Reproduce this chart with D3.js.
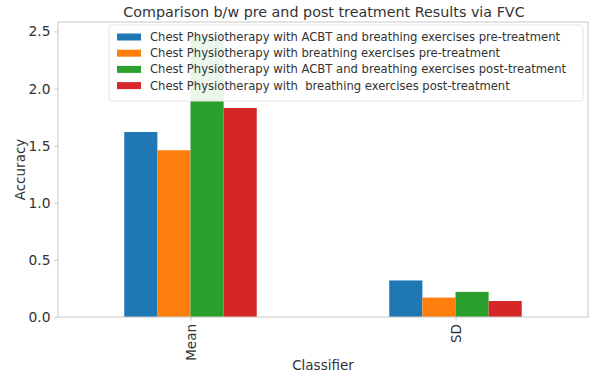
<!DOCTYPE html>
<html><head><meta charset="utf-8">
<script src="https://cdn.jsdelivr.net/npm/d3@7"></script>
<style>body{margin:0;background:#fff}svg{display:block}text{font-family:"DejaVu Sans",sans-serif;fill:#333}</style>
</head><body>
<script>
const categories = ["Mean", "SD"];
const seriesNames = [
  "Chest Physiotherapy with ACBT and breathing exercises pre-treatment",
  "Chest Physiotherapy with breathing exercises pre-treatment",
  "Chest Physiotherapy with ACBT and breathing exercises post-treatment",
  "Chest Physiotherapy with  breathing exercises post-treatment"
];
const acbtPre = [1.62, 0.32];
const breathPre = [1.46, 0.17];
const acbtPost = [2.46, 0.22];
const breathPost = [1.83, 0.14];
const yTicks = [0.0, 0.5, 1.0, 1.5, 2.0, 2.5];
const colors = ["#1f77b4", "#ff7f0e", "#2ca02c", "#d62728"];
const series = [acbtPre, breathPre, acbtPost, breathPost];

const W = 589, H = 377;
const L = 58, R = 588, T = 22, B = 317;
const svg = d3.select("body").append("svg").attr("width", W).attr("height", H);

const x = d3.scaleLinear().domain([-0.5, 1.5]).range([L, R]);
const ymax = d3.max(series.flat()) * 1.05;
const y = d3.scaleLinear().domain([0, ymax]).range([B, T]);
const bw = 0.125;

series.forEach((s, i) => {
  svg.append("g").selectAll("rect").data(s).join("rect")
    .attr("x", (d, j) => x(j + (i - 2) * bw))
    .attr("width", x(bw) - x(0))
    .attr("y", d => y(d))
    .attr("height", d => y(0) - y(d))
    .attr("fill", colors[i]);
});

// spines
const spine = "#c8c8c8";
svg.append("rect").attr("x", L).attr("y", T).attr("width", R - L).attr("height", B - T)
  .attr("fill", "none").attr("stroke", spine).attr("stroke-width", 1);

// y axis
const yAxis = d3.axisLeft(y).tickValues(yTicks).tickFormat(d3.format(".1f")).tickSize(3.5).tickPadding(4);
const gy = svg.append("g").attr("transform", `translate(${L},0)`).call(yAxis);
gy.select(".domain").remove();
gy.selectAll("line").attr("stroke", spine);
gy.selectAll("text").style("font-size", "13.8px").attr("fill", "#444").attr("font-family", "DejaVu Sans");

// x axis
const xAxis = d3.axisBottom(x).tickValues([0, 1]).tickFormat(d => categories[d]).tickSize(3.5).tickPadding(4);
const gx = svg.append("g").attr("transform", `translate(0,${B})`).call(xAxis);
gx.select(".domain").remove();
gx.selectAll("line").attr("stroke", spine);
gx.selectAll("text").style("font-size", "13.5px").attr("fill", "#444").attr("font-family", "DejaVu Sans")
  .attr("transform", "rotate(-90)").attr("text-anchor", "end").attr("dy", "0.35em")
  .attr("x", -7).attr("y", 0);

// labels
svg.append("text").attr("x", (L + R) / 2).attr("y", 370).attr("text-anchor", "middle")
  .style("font-size", "13.5px").text("Classifier");
svg.append("text").attr("transform", `translate(25,${(T + B) / 2}) rotate(-90)`).attr("text-anchor", "middle")
  .style("font-size", "13.5px").text("Accuracy");
svg.append("text").attr("x", (L + R) / 2 + 1).attr("y", 17).attr("text-anchor", "middle")
  .style("font-size", "14.3px").text("Comparison b/w pre and post treatment Results via FVC");

// legend
const lg = svg.append("g");
lg.append("rect").attr("x", 109).attr("y", 25).attr("width", 474).attr("height", 76).attr("rx", 3)
  .attr("fill", "#fff").attr("fill-opacity", 0.9).attr("stroke", "#e4e4e4");
seriesNames.forEach((n, i) => {
  const yy = 37 + i * 16.2;
  lg.append("rect").attr("x", 117).attr("y", yy - 3.5).attr("width", 24).attr("height", 7).attr("fill", colors[i]);
  lg.append("text").attr("x", 150).attr("y", yy).attr("dy", "0.35em").style("font-size", "11.6px")
    .style("white-space", "pre").attr("xml:space", "preserve").text(n);
});
</script>
</body></html>
